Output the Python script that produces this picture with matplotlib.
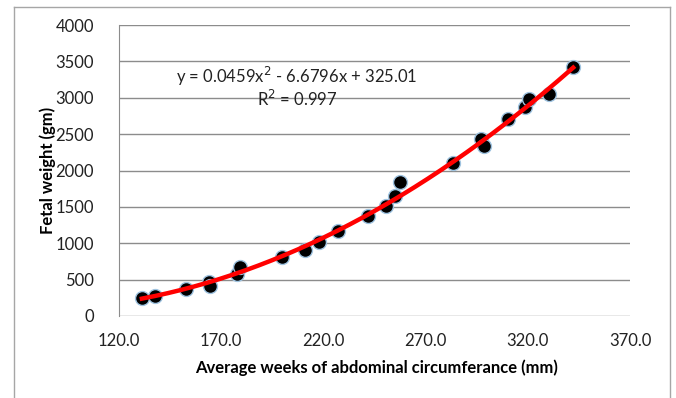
import matplotlib
matplotlib.use("Agg")
import matplotlib.pyplot as plt
import numpy as np
from matplotlib.lines import Line2D

# abdominal circumference (mm) vs fetal weight (gm)
ac_mm = [131.2, 137.5, 152.7, 163.9, 164.3, 177.6, 179.3, 199.7, 210.9,
         217.7, 227.2, 241.9, 250.8, 255.2, 257.3, 283.5, 297.2, 298.5,
         310.5, 318.5, 320.4, 330.5, 342.2]
weight_gm = [253, 276, 377, 474, 414, 579, 667, 805, 910,
             1016, 1172, 1370, 1508, 1646, 1844, 2106, 2428, 2336,
             2713, 2878, 2979, 3057, 3425]

# trendline coefficients shown on the chart
coef = [0.0459, -6.6796, 325.01]
x_ticks = [120, 170, 220, 270, 320, 370]
y_ticks = [0, 500, 1000, 1500, 2000, 2500, 3000, 3500, 4000]

plt.rcParams['font.family'] = ['Lato', 'DejaVu Sans']

W, H = 676, 398
fig = plt.figure(figsize=(W / 100, H / 100), dpi=100)

# outer chart frame (left, top, right edges; bottom is cut off)
bx0, bx1, by = 14.5 / W, 669.5 / W, 1 - 6.5 / H
for xd, yd in [([bx0, bx0], [0, by]), ([bx0, bx1], [by, by]),
               ([bx1, bx1], [0, by])]:
    fig.add_artist(Line2D(xd, yd, transform=fig.transFigure,
                          color='#a6a6a6', linewidth=1))

ax = fig.add_axes([119 / W, 1 - 316 / H, 511 / W, 291 / H])

ax.grid(axis='y', color='#8c8c8c', linewidth=1)
ax.set_axisbelow(True)
for side in ['top', 'right', 'bottom']:
    ax.spines[side].set_visible(False)
ax.spines['left'].set_color('#8c8c8c')

ax.scatter(ac_mm, weight_gm, s=100, color='black', edgecolors='#9fc3e0',
           linewidths=1, zorder=3)
xs = np.linspace(min(ac_mm), max(ac_mm), 200)
ax.plot(xs, np.polyval(coef, xs), color='#ff0000', linewidth=3.2, zorder=4)

ax.set_xlim(120, 370)
ax.set_ylim(0, 4000)
ax.set_xticks(x_ticks)
ax.set_xticklabels(['%.1f' % t for t in x_ticks])
ax.set_yticks(y_ticks)
ax.tick_params(length=0, labelsize=12, colors='#222222')
ax.tick_params(axis='y', pad=18)
ax.tick_params(axis='x', pad=12)

ax.text(207, 3290, 'y = 0.0459x$^2$ - 6.6796x + 325.01', ha='center',
        va='center', fontsize=12, color='#222222')
ax.text(207, 2990, 'R$^2$ = 0.997', ha='center', va='center', fontsize=12,
        color='#222222')

ax.set_xlabel('Average weeks of abdominal circumferance (mm)',
              fontsize=12, fontweight='bold')
ax.set_ylabel('Fetal weight (gm)', fontsize=12, fontweight='bold')
ax.xaxis.set_label_coords(0.503, -0.179)
ax.yaxis.set_label_coords(-0.14, 0.5)
ax.xaxis.label.set_va('center')
ax.yaxis.label.set_va('center')

fig.savefig('out.png', dpi=100)
